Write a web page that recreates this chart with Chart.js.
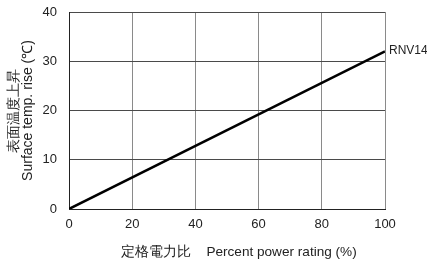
<!DOCTYPE html>
<html>
<head>
<meta charset="utf-8">
<script src="https://cdn.jsdelivr.net/npm/chart.js@4"></script>
<style>
  html, body { margin: 0; padding: 0; background: #fff; }
  #wrap { width: 427px; height: 266px; }
</style>
</head>
<body>
<div id="wrap"><canvas id="chart" width="427" height="266"></canvas></div>
<script>
const powerRating = [0, 100];
const tempRise = [0, 32];
const seriesName = "RNV14";
const xTicks = [0, 20, 40, 60, 80, 100];
const yTicks = [0, 10, 20, 30, 40];
const xTitle = '定格電力比    Percent power rating (%)';
const yTitle = ['表面温度上昇', 'Surface temp. rise (℃)'];

const fontFamily = "'Liberation Sans', Arial, sans-serif";

// series label at the end of the line, and x title (sits a bit right of centre)
const extraText = {
    id: 'extraText',
    afterDatasetsDraw(chart) {
        const ctx = chart.ctx;
        const x = chart.scales.x.getPixelForValue(powerRating[powerRating.length - 1]);
        const y = chart.scales.y.getPixelForValue(tempRise[tempRise.length - 1]);
        ctx.save();
        ctx.font = "12px " + fontFamily;
        ctx.fillStyle = '#222';
        ctx.textBaseline = 'middle';
        ctx.fillText(seriesName, x + 4, y - 1);

        ctx.font = "13.6px " + fontFamily;
        ctx.textAlign = 'center';
        ctx.fillText(xTitle, chart.chartArea.left + chart.chartArea.width / 2 + 12, chart.chartArea.bottom + 43);
        ctx.restore();
    }
};

new Chart("chart", {
    type: "scatter",
    data: {
        datasets: [
            {
                label: seriesName,
                data: powerRating.map((v, i) => ({x: v, y: tempRise[i]})),
                showLine: true,
                borderColor: '#000',
                borderWidth: 2.5,
                pointRadius: 0,
            }
        ]
    },
    options: {
        responsive: false,
        animation: false,
        layout: {padding: {left: 2, right: 42, top: 12, bottom: 4}},
        plugins: {legend: {display: false}, tooltip: {enabled: false}},
        scales: {
            x: {
                type: 'linear',
                min: 0, max: 100,
                afterBuildTicks: (s) => { s.ticks = xTicks.map(v => ({value: v})); },
                afterFit: (s) => { s.height = 53; },
                grid: {color: '#8a8a8a', lineWidth: 1, drawTicks: false},
                border: {color: '#222', width: 1},
                ticks: {color: '#222', font: {family: fontFamily, size: 13}, padding: 8, maxRotation: 0}
            },
            y: {
                min: 0, max: 40,
                afterBuildTicks: (s) => { s.ticks = yTicks.map(v => ({value: v})); },
                afterFit: (s) => { s.width = 67; s.paddingTop = 0; s.paddingBottom = 0; },
                grid: {color: '#4a4a4a', lineWidth: 1, drawTicks: false},
                border: {color: '#222', width: 1},
                ticks: {color: '#222', font: {family: fontFamily, size: 13}, padding: 12},
                title: {
                    display: true,
                    text: yTitle,
                    color: '#222',
                    font: {family: fontFamily, size: 14, lineHeight: 1.0},
                    padding: {top: 5, bottom: 4}
                }
            }
        }
    },
    plugins: [extraText]
});
</script>
</body>
</html>
